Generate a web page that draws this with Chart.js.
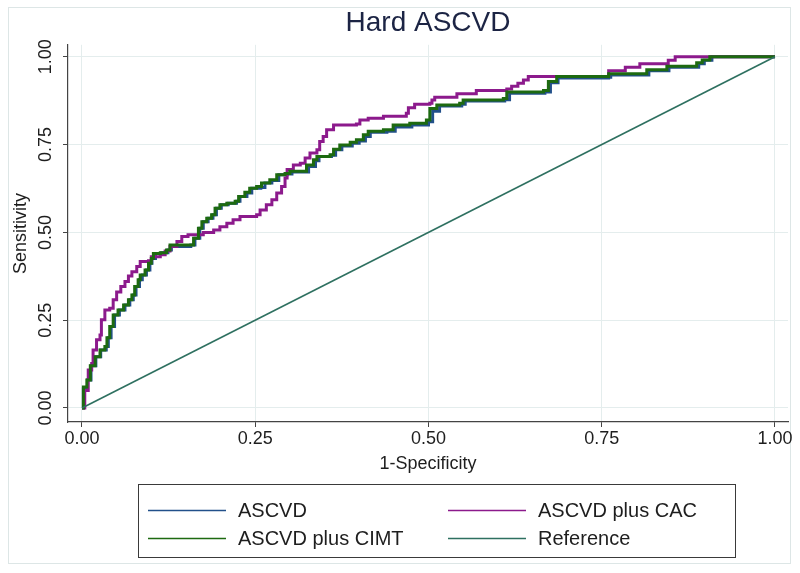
<!DOCTYPE html>
<html><head><meta charset="utf-8">
<script src="https://cdn.jsdelivr.net/npm/chart.js@4.4.1/dist/chart.umd.min.js"></script>
<style>html,body{margin:0;padding:0;background:#fff;}#wrap{width:800px;height:573px;}</style>
</head><body><div id="wrap"><canvas id="c" width="800" height="573"></canvas></div>
<script>
const chartTitle = 'Hard ASCVD';
const xAxisTitle = '1-Specificity';
const yAxisTitle = 'Sensitivity';
const tickValues = [0, 0.25, 0.5, 0.75, 1];
const seriesNames = ['ASCVD', 'ASCVD plus CAC', 'ASCVD plus CIMT', 'Reference'];

const ascvdFpr = [0,0.002,0.008,0.013,0.02,0.027,0.035,0.038,0.042,0.047,0.054,0.062,0.069,0.074,0.078,0.083,0.087,0.093,0.098,0.101,0.106,0.115,0.124,0.129,0.157,0.163,0.17,0.175,0.182,0.189,0.194,0.201,0.211,0.223,0.228,0.238,0.245,0.258,0.264,0.274,0.284,0.296,0.303,0.322,0.327,0.337,0.342,0.36,0.366,0.375,0.39,0.4,0.409,0.416,0.44,0.452,0.476,0.5,0.506,0.516,0.548,0.553,0.61,0.617,0.668,0.676,0.687,0.76,0.763,0.802,0.818,0.847,0.89,0.898,0.909,1];
const ascvdTpr = [0,0.055,0.08,0.12,0.146,0.165,0.175,0.2,0.232,0.265,0.279,0.293,0.308,0.322,0.346,0.365,0.379,0.393,0.412,0.426,0.44,0.442,0.45,0.46,0.464,0.483,0.512,0.53,0.54,0.55,0.569,0.579,0.583,0.589,0.602,0.612,0.626,0.628,0.641,0.648,0.664,0.666,0.672,0.672,0.688,0.704,0.716,0.72,0.735,0.746,0.754,0.76,0.773,0.785,0.788,0.8,0.806,0.815,0.845,0.86,0.865,0.874,0.878,0.896,0.9,0.926,0.94,0.942,0.948,0.948,0.96,0.97,0.98,0.99,1,1];

const cacFpr = [0,0.004,0.009,0.014,0.016,0.021,0.026,0.028,0.033,0.04,0.045,0.05,0.056,0.062,0.067,0.072,0.079,0.084,0.096,0.1,0.113,0.12,0.127,0.137,0.144,0.153,0.166,0.175,0.19,0.199,0.209,0.218,0.228,0.252,0.257,0.266,0.274,0.281,0.288,0.293,0.296,0.305,0.315,0.322,0.329,0.339,0.343,0.348,0.353,0.363,0.396,0.401,0.413,0.435,0.468,0.471,0.48,0.502,0.505,0.509,0.541,0.569,0.613,0.62,0.629,0.637,0.644,0.738,0.76,0.784,0.805,0.846,0.856,1];
const cacTpr = [0,0.05,0.108,0.127,0.165,0.194,0.208,0.251,0.279,0.284,0.308,0.33,0.346,0.36,0.376,0.388,0.403,0.417,0.419,0.431,0.436,0.447,0.46,0.474,0.488,0.493,0.493,0.5,0.507,0.516,0.526,0.536,0.545,0.55,0.564,0.579,0.593,0.612,0.631,0.655,0.679,0.692,0.697,0.712,0.726,0.735,0.759,0.773,0.792,0.806,0.809,0.82,0.825,0.831,0.839,0.855,0.865,0.868,0.877,0.885,0.895,0.904,0.908,0.916,0.925,0.934,0.944,0.944,0.96,0.97,0.98,0.99,1,1];

const cimtFpr = [0,0.002,0.007,0.012,0.019,0.026,0.033,0.036,0.04,0.045,0.052,0.06,0.067,0.072,0.076,0.081,0.084,0.091,0.096,0.1,0.103,0.113,0.122,0.127,0.155,0.161,0.168,0.173,0.18,0.187,0.192,0.199,0.209,0.221,0.226,0.235,0.242,0.252,0.259,0.271,0.281,0.293,0.3,0.319,0.324,0.334,0.339,0.358,0.363,0.372,0.387,0.396,0.406,0.413,0.435,0.449,0.473,0.497,0.502,0.512,0.545,0.55,0.608,0.613,0.666,0.673,0.685,0.757,0.76,0.8,0.815,0.844,0.887,0.895,0.906,1];
const cimtTpr = [0,0.06,0.08,0.12,0.146,0.165,0.175,0.2,0.232,0.265,0.279,0.293,0.308,0.322,0.346,0.365,0.379,0.393,0.412,0.426,0.44,0.442,0.45,0.464,0.464,0.483,0.512,0.53,0.54,0.55,0.569,0.579,0.583,0.589,0.602,0.614,0.626,0.631,0.641,0.65,0.664,0.668,0.674,0.674,0.692,0.707,0.716,0.721,0.737,0.749,0.757,0.764,0.778,0.788,0.792,0.806,0.811,0.82,0.853,0.863,0.868,0.877,0.881,0.9,0.904,0.93,0.944,0.944,0.952,0.952,0.963,0.973,0.983,0.991,1,1];

const refFpr = [0, 1];
const refTpr = [0, 1];

const FONT = '"Liberation Sans", Arial, Helvetica, sans-serif';
const TEXT = '#1e1e1e';

function pts(xs, ys) { return xs.map((x, i) => ({ x: x, y: ys[i] })); }

const framePlugin = {
  id: 'frame',
  beforeDraw(chart) {
    const ctx = chart.ctx;
    ctx.save();
    ctx.fillStyle = '#ffffff';
    ctx.fillRect(0, 0, chart.width, chart.height);
    ctx.strokeStyle = '#dde6e6';
    ctx.lineWidth = 1;
    ctx.strokeRect(8.5, 7.5, 782, 556);
    ctx.restore();
  }
};

const legendBoxPlugin = {
  id: 'legendBox',
  afterDraw(chart) {
    const ctx = chart.ctx;
    const ds = chart.data.datasets;
    const L = 138, T = 484, R = 735, B = 557;
    ctx.save();
    ctx.fillStyle = '#ffffff';
    ctx.fillRect(L, T, R - L, B - T);
    ctx.strokeStyle = '#3a3a3a';
    ctx.lineWidth = 1;
    ctx.strokeRect(L + 0.5, T + 0.5, R - L, B - T);
    const cols = [148, 448], rows = [510, 538];
    ds.forEach((d, i) => {
      const cx = cols[i % 2], cy = rows[Math.floor(i / 2)];
      ctx.strokeStyle = d.borderColor;
      ctx.lineWidth = 1.5;
      ctx.beginPath(); ctx.moveTo(cx, cy + 0.5); ctx.lineTo(cx + 78, cy + 0.5); ctx.stroke();
      ctx.fillStyle = TEXT;
      ctx.font = '20px ' + FONT;
      ctx.textBaseline = 'middle';
      ctx.textAlign = 'left';
      ctx.fillText(d.label, cx + 90, cy + 1);
    });
    ctx.restore();
  }
};

const colors = ['#22508a', '#8c1a8c', '#1d6a10', '#2e7060'];
const series = [pts(ascvdFpr, ascvdTpr), pts(cacFpr, cacTpr), pts(cimtFpr, cimtTpr), pts(refFpr, refTpr)];

const datasets = series.map((data, i) => ({
  label: seriesNames[i],
  data: data,
  borderColor: colors[i],
  backgroundColor: colors[i],
  borderWidth: i === 3 ? 1.6 : 3,
  pointRadius: 0,
  fill: false,
  stepped: i === 3 ? false : 'before',
  order: 4 - i
}));

function fixedTicks(scale) { scale.ticks = tickValues.map(v => ({ value: v })); }

new Chart(document.getElementById('c'), {
  type: 'line',
  data: { datasets: datasets },
  options: {
    responsive: false,
    animation: false,
    devicePixelRatio: 1,
    layout: { padding: { left: 0, right: 12, top: 0, bottom: 96 } },
    plugins: {
      legend: { display: false },
      tooltip: { enabled: false },
      title: {
        display: true, text: chartTitle, color: '#1c2444', fullSize: false,
        font: { family: FONT, size: 28, weight: 'normal', lineHeight: 1.1 },
        padding: { top: 8, bottom: 6 }
      }
    },
    scales: {
      x: {
        type: 'linear', min: -0.0202, max: 1.0188,
        afterBuildTicks: fixedTicks,
        afterFit(scale) { scale.height = 55; },
        grid: { color: '#e4eded', lineWidth: 1, drawTicks: true, tickLength: 5, tickColor: '#444' },
        border: { display: true, color: '#444', width: 1.2 },
        ticks: { color: TEXT, font: { family: FONT, size: 18 }, padding: 1, maxRotation: 0, minRotation: 0,
          callback: v => Number(v).toFixed(2) },
        title: { display: true, text: xAxisTitle, color: TEXT, font: { family: FONT, size: 18 }, padding: { top: 0, bottom: 2 } }
      },
      y: {
        type: 'linear', min: -0.0399, max: 1.0342,
        afterBuildTicks: fixedTicks,
        afterFit(scale) { scale.width = 68; },
        grid: { color: '#e4eded', lineWidth: 1, drawTicks: true, tickLength: 5, tickColor: '#444' },
        border: { display: true, color: '#444', width: 1.2 },
        ticks: { color: TEXT, font: { family: FONT, size: 18 }, padding: -1, minRotation: 90, maxRotation: 90,
          crossAlign: 'center', callback: v => Number(v).toFixed(2) },
        title: { display: true, text: yAxisTitle, color: TEXT, font: { family: FONT, size: 18 }, padding: { top: 10, bottom: 0 } }
      }
    }
  },
  plugins: [framePlugin, legendBoxPlugin]
});
</script>
</body></html>
